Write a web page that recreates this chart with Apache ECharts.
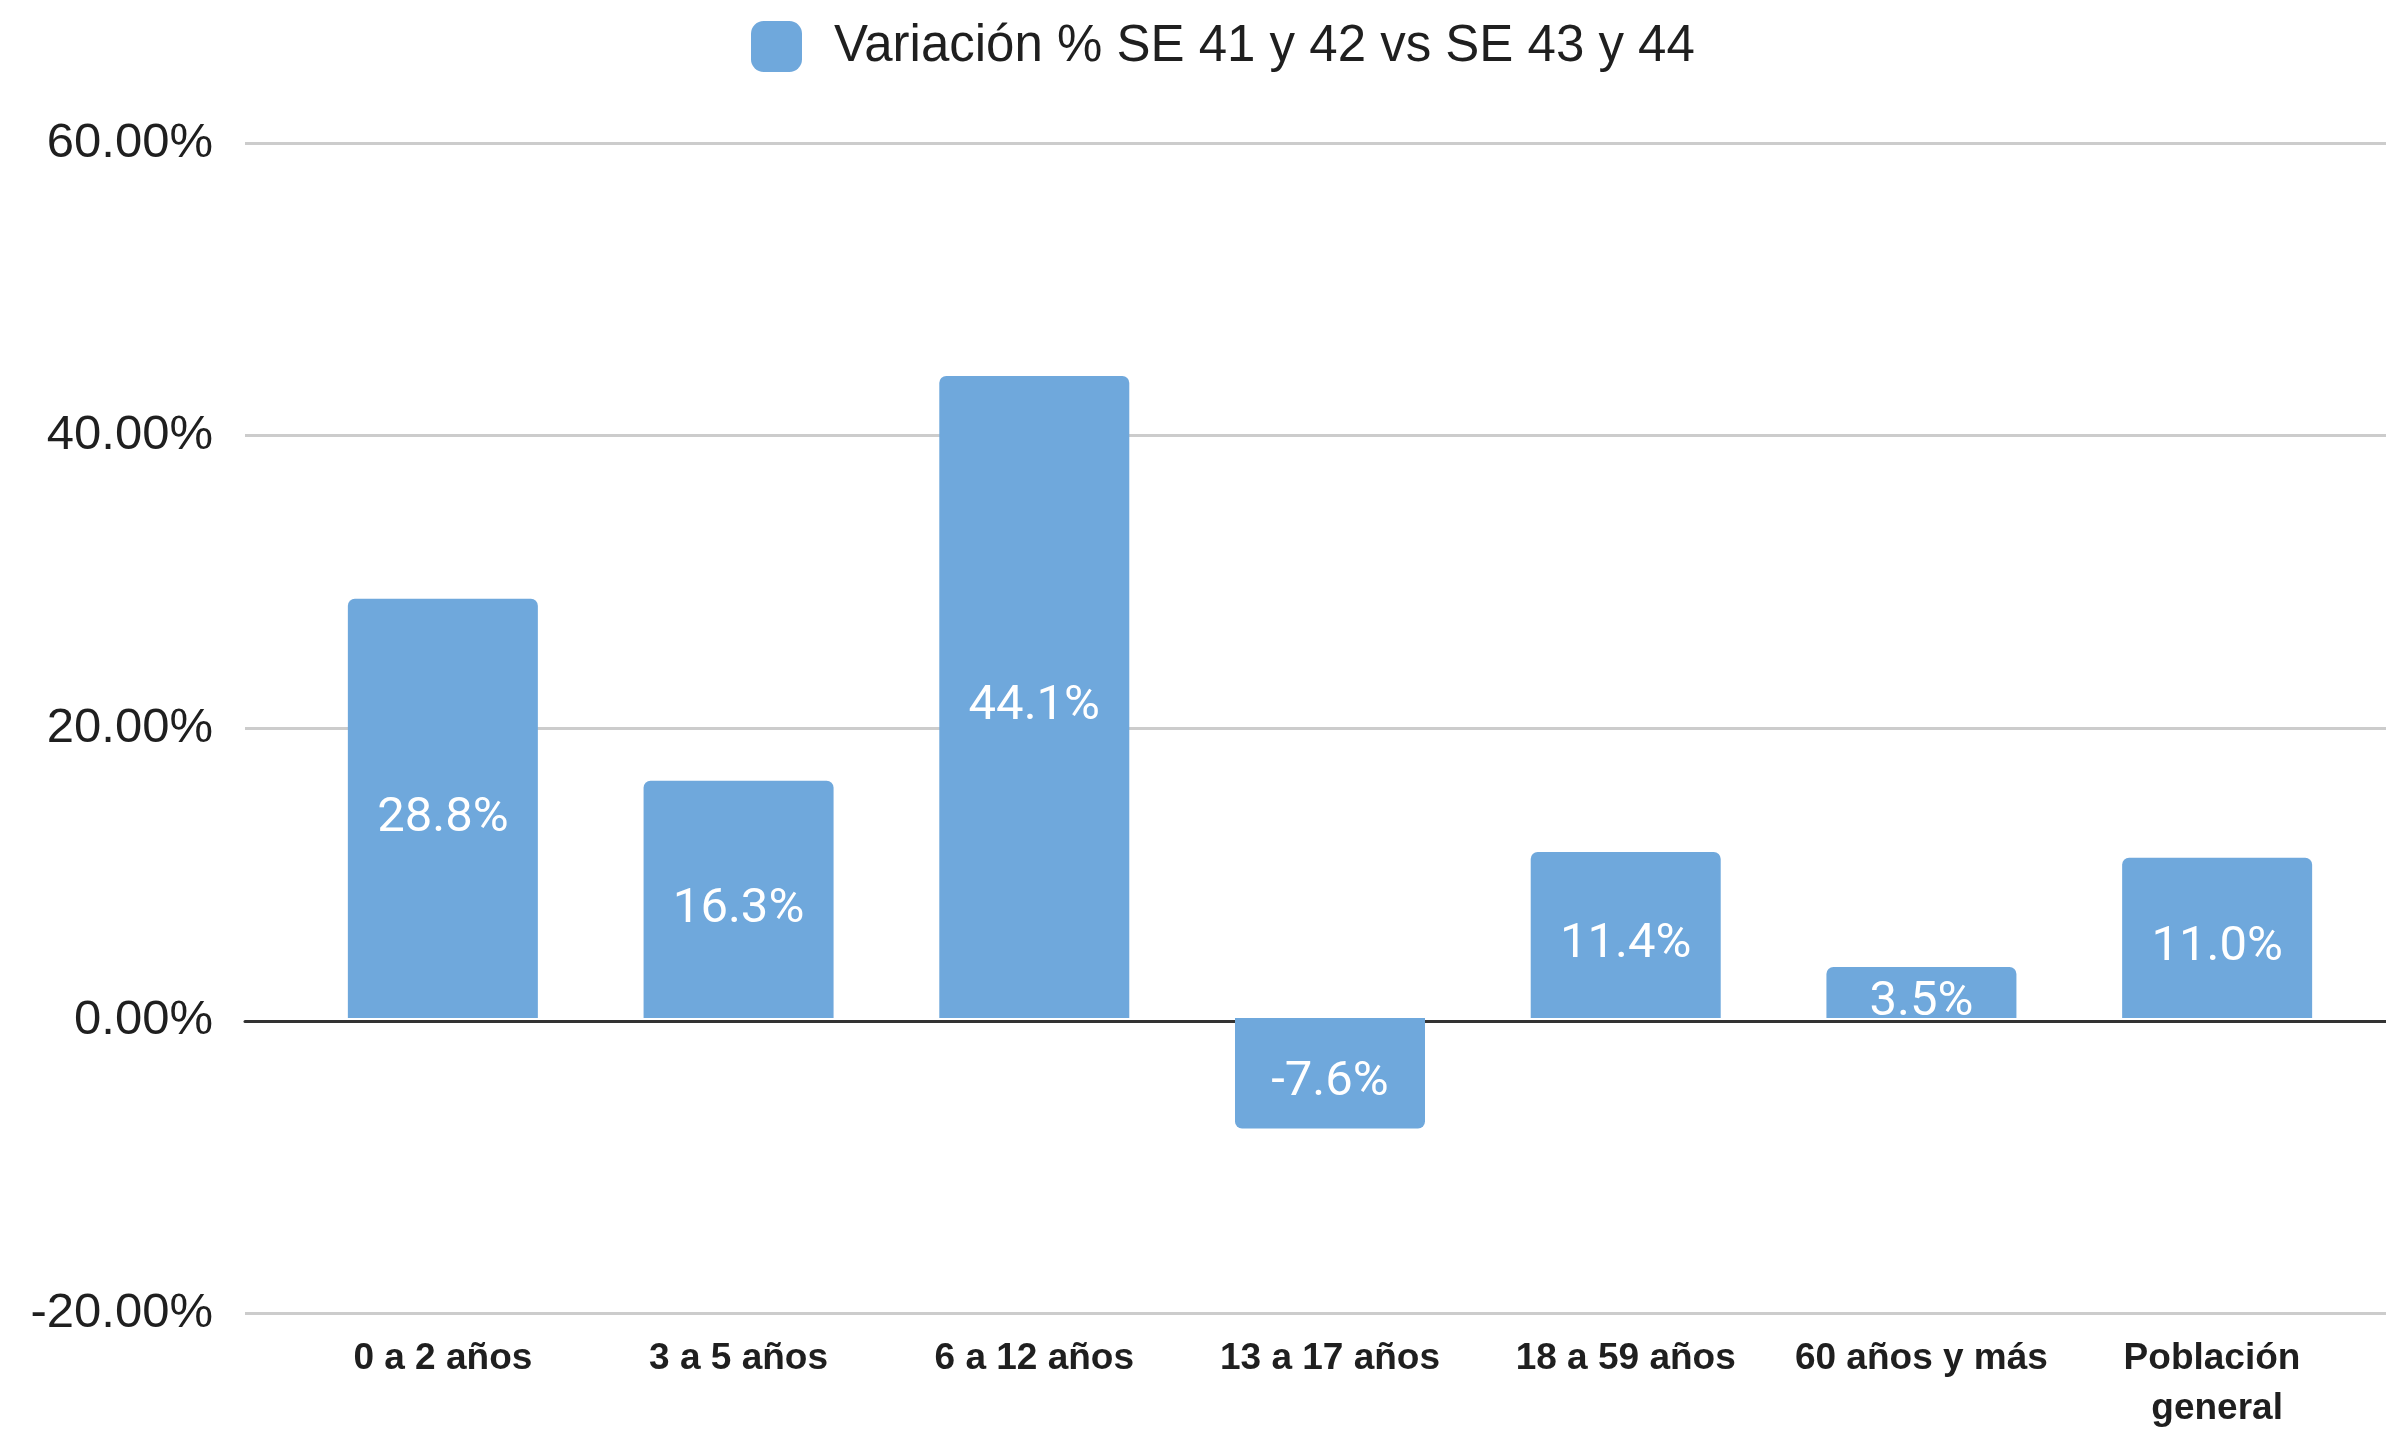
<!DOCTYPE html>
<html>
<head>
<meta charset="utf-8">
<script src="https://cdn.jsdelivr.net/npm/echarts@6/dist/echarts.min.js"></script>
<style>
html,body{margin:0;padding:0;background:#fff;}
#chart{width:2386px;height:1434px;}
</style>
</head>
<body>
<div id="chart"></div>
<script>
const seriesName = 'Variación % SE 41 y 42 vs SE 43 y 44';
const categories = ['0 a 2 años', '3 a 5 años', '6 a 12 años', '13 a 17 años', '18 a 59 años', '60 años y más', 'Población general'];
const values = [28.8, 16.3, 44.1, -7.6, 11.4, 3.5, 11.0];
const yTicks = { min: -20, max: 60, interval: 20 };

const barColor = '#6fa8dc';
const chart = echarts.init(document.getElementById('chart'), null, { renderer: 'canvas' });

const barData = values.map(v => ({
  value: v,
  itemStyle: { borderRadius: v < 0 ? [0, 0, 7, 7] : [7, 7, 0, 0] }
}));

const gridTop = 144.6, gridBottom = 1434 - 1314.8;

chart.setOption({
  animation: false,
  backgroundColor: '#ffffff',
  legend: {
    data: [seriesName],
    left: 746,
    top: 16,
    itemWidth: 51,
    itemHeight: 51,
    icon: 'roundRect',
    textStyle: {
      fontFamily: 'Liberation Sans',
      fontSize: 51,
      color: '#1f1f1f',
      padding: [0, 0, 0, 27]
    }
  },
  grid: [
    { left: 295, right: 21, top: gridTop, bottom: gridBottom },
    { left: 245, right: 0, top: gridTop - 1.5, bottom: gridBottom + 1.5 }
  ],
  xAxis: [
    {
      gridIndex: 0,
      type: 'category',
      data: categories,
      axisLine: { show: false },
      axisTick: { show: false },
      axisLabel: {
        interval: 0,
        margin: 25,
        fontFamily: 'Liberation Sans',
        fontWeight: 'bold',
        fontSize: 37,
        lineHeight: 50,
        color: '#1f1f1f',
        width: 295,
        overflow: 'break'
      }
    },
    {
      gridIndex: 1,
      type: 'category',
      data: categories,
      axisLine: { show: true, onZero: true, lineStyle: { color: '#333', width: 3 } },
      axisTick: { show: false },
      axisLabel: { show: false }
    }
  ],
  yAxis: [
    {
      gridIndex: 0,
      type: 'value',
      min: yTicks.min, max: yTicks.max, interval: yTicks.interval,
      axisLine: { show: false },
      axisTick: { show: false },
      axisLabel: { show: false },
      splitLine: { show: false }
    },
    {
      gridIndex: 1,
      type: 'value',
      min: yTicks.min, max: yTicks.max, interval: yTicks.interval,
      axisLine: { show: false },
      axisTick: { show: false },
      axisLabel: {
        margin: 32,
        fontFamily: 'Liberation Sans',
        fontSize: 49,
        color: '#1f1f1f',
        formatter: v => v.toFixed(2) + '%'
      },
      splitLine: { show: true, lineStyle: { color: '#cccccc', width: 3 } }
    }
  ],
  series: [
    {
      name: seriesName,
      type: 'bar',
      xAxisIndex: 0,
      yAxisIndex: 0,
      barWidth: 190,
      itemStyle: { color: barColor },
      label: {
        show: true,
        position: 'inside',
        offset: [0, 10],
        color: '#ffffff',
        fontFamily: 'Roboto',
        fontSize: 49,
        formatter: p => p.value.toFixed(1) + '%'
      },
      data: barData
    }
  ]
});
</script>
</body>
</html>
